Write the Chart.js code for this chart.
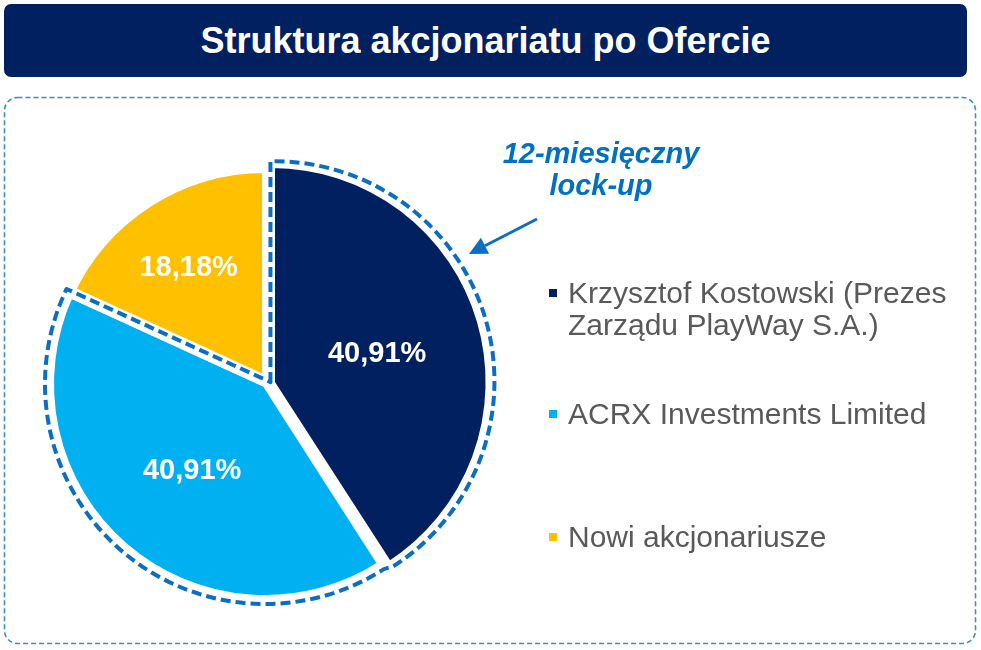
<!DOCTYPE html>
<html lang="pl">
<head>
<meta charset="utf-8">
<title>Struktura akcjonariatu po Ofercie</title>
<script src="https://cdn.jsdelivr.net/npm/chart.js@4.4.1/dist/chart.umd.min.js"></script>
<style>
  html, body { margin: 0; padding: 0; background: #fff; }
  #wrap { position: relative; width: 981px; height: 650px; overflow: hidden;
          font-family: "Liberation Sans", Arial, sans-serif; }
  #chart { position: absolute; left: 0; top: 0; }
  #title { position: absolute; left: 4px; top: 4px; width: 963px; height: 73px;
           background: #002060; border-radius: 7px; color: #fff; font-weight: bold;
           font-size: 36px; display: flex; align-items: center; justify-content: center; }
  #note { position: absolute; left: 450px; top: 137px; width: 302px; text-align: center;
          color: #0070c0; font-weight: bold; font-style: italic; font-size: 29px; line-height: 32px; }
  .item { position: absolute; left: 549px; width: 425px; color: #595959;
          font-size: 30px; line-height: 32px; }
  .item .box { position: absolute; left: 0; top: 12px; width: 8px; height: 8px; }
  .item .txt { margin-left: 19px; width: 400px; }
</style>
</head>
<body>
<div id="wrap">
  <canvas id="chart" width="981" height="650"></canvas>
  <div id="title"></div>
  <div id="note"></div>
  <div id="legend"></div>
</div>
<script>
const titleText = "Struktura akcjonariatu po Ofercie";
const noteLines = ["12-miesięczny", "lock-up"];
const categories = ["Krzysztof Kostowski (Prezes Zarządu PlayWay S.A.)", "ACRX Investments Limited", "Nowi akcjonariusze"];
const shares = [40.91, 40.91, 18.18];
const sliceColors = ["#002060", "#00b0f0", "#ffc000"];

const lockColor = "#0a6fc0";
const labelRadius = [0.5, 0.52, 0.66];
const legendTops = [277, 398, 521];

document.getElementById("title").textContent = titleText;
document.getElementById("note").innerHTML = noteLines.join("<br>");

function buildLegend() {
  const legend = document.getElementById("legend");
  categories.forEach((name, i) => {
    const item = document.createElement("div");
    item.className = "item";
    item.style.top = legendTops[i] + "px";
    const box = document.createElement("span");
    box.className = "box";
    box.style.background = sliceColors[i];
    const txt = document.createElement("div");
    txt.className = "txt";
    txt.textContent = name;
    item.appendChild(box);
    item.appendChild(txt);
    legend.appendChild(item);
  });
}

function formatShare(v) {
  return v.toFixed(2).replace(".", ",") + "%";
}

// how far Chart.js moves an exploded arc (same maths as ArcElement.draw)
function arcShift(arc) {
  const off = (arc.options.offset || 0) / 4;
  const circ = arc.endAngle - arc.startAngle;
  const fix = 1 - Math.sin(Math.min(Math.PI, circ));
  return off * (1 + fix);
}

const framePlugin = {
  id: "frame",
  beforeDraw(chart) {
    const ctx = chart.ctx;
    ctx.save();
    ctx.strokeStyle = "#3a8dc8";
    ctx.lineWidth = 1.6;
    ctx.setLineDash([5, 3]);
    ctx.beginPath();
    ctx.roundRect(4.5, 97.5, 971, 546, 13);
    ctx.stroke();
    ctx.restore();
  }
};

const lockPlugin = {
  id: "lockup",
  afterDatasetsDraw(chart) {
    const ctx = chart.ctx;
    const meta = chart.getDatasetMeta(0);
    const dark = meta.data[0];
    const blue = meta.data[1];
    const c = { x: dark.x, y: dark.y };
    const r = dark.outerRadius;
    const h = (dark.startAngle + dark.endAngle) / 2;
    const s = arcShift(dark);
    const cs = { x: c.x + Math.cos(h) * s, y: c.y + Math.sin(h) * s };
    const a0 = dark.startAngle, a1 = dark.endAngle, a2 = blue.endAngle;
    const g = 4, R = r + 6;
    const da = Math.asin(g / R);

    // corner where the two offset edges meet
    const p1 = { x: cs.x + g * Math.cos(a0 - Math.PI / 2), y: cs.y + g * Math.sin(a0 - Math.PI / 2) };
    const p2 = { x: c.x + g * Math.cos(a2 + Math.PI / 2), y: c.y + g * Math.sin(a2 + Math.PI / 2) };
    const d1 = { x: Math.cos(a0), y: Math.sin(a0) };
    const d2 = { x: Math.cos(a2), y: Math.sin(a2) };
    const det = d1.x * (-d2.y) - d1.y * (-d2.x);
    const t = ((p2.x - p1.x) * (-d2.y) - (p2.y - p1.y) * (-d2.x)) / det;
    const corner = { x: p1.x + d1.x * t, y: p1.y + d1.y * t };

    const path = () => {
      ctx.beginPath();
      ctx.moveTo(corner.x, corner.y);
      ctx.arc(cs.x, cs.y, R, a0 - da, a1);
      ctx.arc(c.x, c.y, R, a1, a2 + da);
      ctx.closePath();
    };

    ctx.save();
    ctx.lineJoin = "round";
    path();
    ctx.strokeStyle = "#ffffff";
    ctx.lineWidth = 9;
    ctx.stroke();
    path();
    ctx.strokeStyle = lockColor;
    ctx.lineWidth = 4;
    ctx.setLineDash([10, 5]);
    ctx.stroke();
    ctx.restore();

    // value labels
    ctx.save();
    ctx.fillStyle = "#ffffff";
    ctx.font = "bold 29px 'Liberation Sans', Arial, sans-serif";
    ctx.textAlign = "center";
    ctx.textBaseline = "middle";
    meta.data.forEach((arc, i) => {
      const mid = (arc.startAngle + arc.endAngle) / 2;
      const sh = arcShift(arc);
      const rr = arc.outerRadius * labelRadius[i];
      const x = arc.x + Math.cos(mid) * (sh + rr);
      const y = arc.y + Math.sin(mid) * (sh + rr);
      ctx.fillText(formatShare(shares[i]), x, y + 3);
    });
    ctx.restore();

    // arrow pointing at the locked-up part
    ctx.save();
    ctx.strokeStyle = lockColor;
    ctx.fillStyle = lockColor;
    ctx.lineWidth = 3;
    const from = { x: 537, y: 219 }, tip = { x: 469, y: 254 };
    const ang = Math.atan2(tip.y - from.y, tip.x - from.x);
    const back = { x: tip.x - Math.cos(ang) * 18, y: tip.y - Math.sin(ang) * 18 };
    ctx.beginPath();
    ctx.moveTo(from.x, from.y);
    ctx.lineTo(back.x, back.y);
    ctx.stroke();
    ctx.beginPath();
    ctx.moveTo(tip.x, tip.y);
    ctx.lineTo(back.x + Math.cos(ang + Math.PI / 2) * 9, back.y + Math.sin(ang + Math.PI / 2) * 9);
    ctx.lineTo(back.x + Math.cos(ang - Math.PI / 2) * 9, back.y + Math.sin(ang - Math.PI / 2) * 9);
    ctx.closePath();
    ctx.fill();
    ctx.restore();
  }
};

const ctx = document.getElementById("chart").getContext("2d");
new Chart(ctx, {
  type: "pie",
  data: {
    labels: categories,
    datasets: [{
      data: shares,
      backgroundColor: sliceColors,
      borderColor: "#ffffff",
      borderWidth: 6,
      offset: [27, 0, 0],
      hoverOffset: 0,
      radius: 214
    }]
  },
  options: {
    responsive: false,
    animation: false,
    events: [],
    layout: { padding: { left: 25, top: 144, right: 476, bottom: 26 } },
    plugins: {
      legend: { display: false },
      tooltip: { enabled: false }
    }
  },
  plugins: [framePlugin, lockPlugin]
});

buildLegend();
</script>
</body>
</html>
